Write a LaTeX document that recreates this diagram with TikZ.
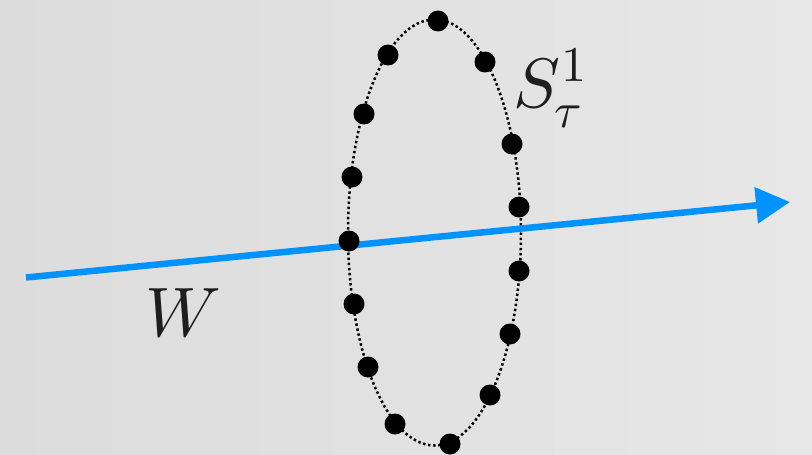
\documentclass[tikz,border=0pt]{standalone}
\usetikzlibrary{arrows.meta}
\definecolor{bgL}{RGB}{220,220,220}
\definecolor{bgR}{RGB}{231,231,231}
\definecolor{arrowblue}{RGB}{0,146,255}
\definecolor{ink}{RGB}{30,30,30}
\tikzset{
  dot/.style={circle,fill=black,inner sep=0pt,minimum size=21pt},
  orbit/.style={draw=black,line width=2.5pt,dash pattern=on 2.5pt off 2.6pt},
  wline/.style={draw=arrowblue,line width=6.5pt,-{Triangle[length=34pt,width=35pt]}},
  biglabel/.style={inner sep=0pt,scale=7.0,text=ink},
  smalllabel/.style={inner sep=0pt,scale=5.0,text=ink}
}
\begin{document}
\begin{tikzpicture}[x=1pt,y=-1pt]
\useasboundingbox (0,0) rectangle (812,455);
\shade[left color=bgL,right color=bgR] (0,0) rectangle (812,455);
% orbit
\coordinate (c) at (434.5,232.5);
\draw[orbit] (c) ellipse [x radius=86.5, y radius=213];
% arrow W
\coordinate (wstart) at (26,277.5);
\coordinate (wend) at (790,202);
\draw[wline] (wstart) -- (wend);
% dots
\node[dot] (d1) at (438,21) {};
\node[dot] (d2) at (485,62) {};
\node[dot] (d3) at (388,55) {};
\node[dot] (d4) at (364,114) {};
\node[dot] (d5) at (512,144) {};
\node[dot] (d6) at (352,177) {};
\node[dot] (d7) at (519,207) {};
\node[dot] (d8) at (349,241) {};
\node[dot] (d9) at (519,271) {};
\node[dot] (d10) at (354,304) {};
\node[dot] (d11) at (510,334) {};
\node[dot] (d12) at (368,367) {};
\node[dot] (d13) at (490,395) {};
\node[dot] (d14) at (395,424) {};
\node[dot] (d15) at (450,444) {};
% labels
\node[biglabel] (S) at (537,83.5) {$S$};
\node[smalllabel] (sup) at (574,65) {$1$};
\node[smalllabel] (sub) at (568,117) {$\tau$};
\node[biglabel] (W) at (183,312.5) {$W$};
\end{tikzpicture}
\end{document}
